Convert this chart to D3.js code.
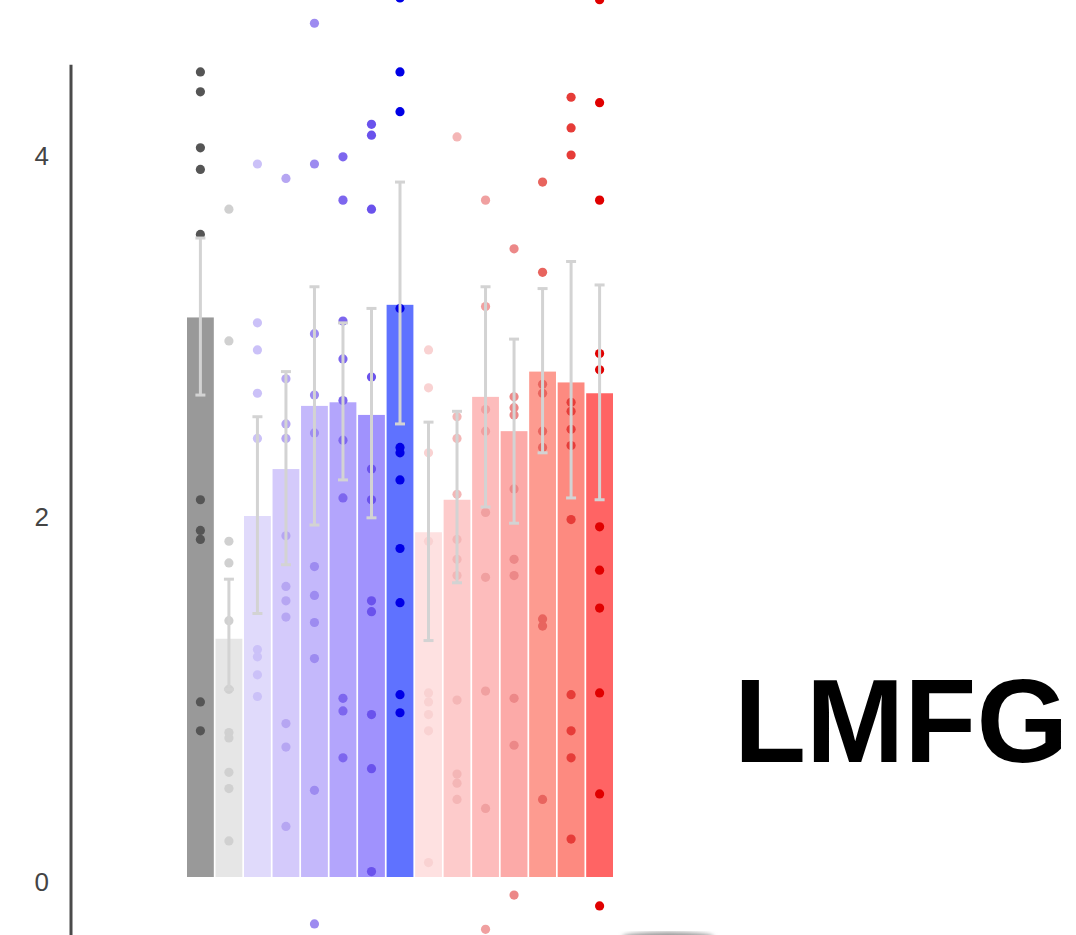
<!DOCTYPE html>
<html>
<head>
<meta charset="utf-8">
<script src="https://cdn.jsdelivr.net/npm/d3@7/dist/d3.min.js"></script>
<style>
  html, body { margin: 0; padding: 0; background: #fff; }
  svg { display: block; }
</style>
</head>
<body>
<svg id="chart" width="1076" height="935"></svg>
<script>
// ---- data ----
const categories = ["g1","g2","g3","g4","g5","g6","g7","g8","g9","g10","g11","g12","g13","g14","g15"];
const means   = [3.10,1.32,2.00,2.26,2.61,2.63,2.56,3.17,1.91,2.09,2.66,2.47,2.80,2.74,2.68];
const errHigh = [3.54,1.65,2.55,2.80,3.27,3.07,3.15,3.85,2.52,2.58,3.27,2.98,3.26,3.41,3.28];
const errLow  = [2.67,1.04,1.46,1.73,1.95,2.20,1.99,2.51,1.31,1.63,2.05,1.96,2.35,2.10,2.09];
const pointValues = [
  [4.46,4.35,4.04,3.92,3.56,2.09,1.92,1.87,0.97,0.81],
  [3.70,2.97,1.86,1.74,1.42,1.04,0.80,0.77,0.58,0.49,0.20],
  [3.95,3.07,2.92,2.68,2.43,1.26,1.22,1.12,1.00],
  [3.87,2.76,2.51,2.43,1.89,1.61,1.53,1.44,0.85,0.72,0.28],
  [4.73,3.95,3.01,2.67,2.46,1.72,1.56,1.41,1.21,0.48,-0.26],
  [3.99,3.75,3.08,2.87,2.64,2.42,2.10,0.99,0.92,0.66],
  [4.17,4.11,3.70,2.77,2.26,2.09,1.53,1.47,0.90,0.60,0.03],
  [4.87,4.46,4.24,3.15,2.38,2.35,2.20,1.82,1.52,1.01,0.91],
  [2.92,2.71,2.35,1.86,1.02,0.97,0.90,0.81,0.08],
  [4.10,2.55,2.43,2.12,1.87,1.76,1.67,0.98,0.57,0.52,0.43],
  [3.75,3.16,2.59,2.47,2.02,1.66,1.03,0.38,-0.29],
  [3.48,2.66,2.60,2.56,2.15,1.76,1.67,0.99,0.73,-0.10],
  [3.85,3.35,2.73,2.68,2.47,2.38,1.43,1.39,0.43],
  [4.32,4.15,4.00,2.63,2.58,2.48,2.39,1.98,1.01,0.81,0.66,0.21],
  [4.86,4.29,3.75,2.90,2.81,1.94,1.70,1.49,1.02,0.46,-0.16]
];
const tickValues = [0, 2, 4];
const axisExtent = [-0.33, 4.5];
const barColors = ["#999999","#e6e6e6","#e0dafb","#d4cafb","#c4b8fb","#b3a5fc","#a092fd","#5f72ff",
                   "#fee1e1","#fdcbcb","#fdbcbc","#fcaaa8","#fd9b90","#fd8a80","#ff6464"];
const dotColors = ["#555555","#d0d0d0","#cbc1f8","#b6a6f2","#9d8bf0","#7d66ee","#6a52ec","#0000e6",
                   "#f9d2d2","#f4b6b6","#f0a0a0","#ec8888","#e8645e","#e63c38","#e00000"];
const title = "LMFG";

// ---- chart ----
const svg = d3.select("#chart");
const x = d3.scaleBand().domain(categories).range([187, 613]).paddingInner(0.06).paddingOuter(0);
const y = d3.scaleLinear().domain([0, 4]).range([877, 155]);

// faint blurred shape at bottom
const defs = svg.append("defs");
defs.append("filter").attr("id", "blur").append("feGaussianBlur").attr("stdDeviation", 2);
svg.append("ellipse").attr("cx", 668).attr("cy", 937).attr("rx", 46).attr("ry", 5)
  .attr("fill", "#9a9a9a").attr("filter", "url(#blur)");

// axis
const axis = d3.axisLeft(y).tickValues(tickValues).tickSize(0).tickPadding(22).tickFormat(d3.format("d"));
const gAxis = svg.append("g").attr("transform", "translate(71,0)").call(axis);
gAxis.select(".domain").remove();
gAxis.selectAll("text")
  .attr("font-family", "Liberation Sans, Arial, sans-serif")
  .attr("font-size", 26).attr("fill", "#444")
  .attr("dy", d => d === 0 ? "0.5em" : "0.35em");
gAxis.append("line")
  .attr("x1", 0).attr("x2", 0)
  .attr("y1", y(axisExtent[1])).attr("y2", y(axisExtent[0]))
  .attr("stroke", "#4a4a4a").attr("stroke-width", 3);

// bars
svg.append("g").selectAll("rect").data(categories).join("rect")
  .attr("x", d => x(d))
  .attr("width", x.bandwidth())
  .attr("y", (d, i) => y(means[i]))
  .attr("height", (d, i) => y(0) - y(means[i]))
  .attr("fill", (d, i) => barColors[i]);

// dots
const gDots = svg.append("g");
categories.forEach((c, i) => {
  gDots.selectAll(null).data(pointValues[i]).join("circle")
    .attr("cx", x(c) + x.bandwidth() / 2)
    .attr("cy", v => y(v))
    .attr("r", 4.6)
    .attr("fill", dotColors[i]);
});

// error bars
const gErr = svg.append("g").attr("stroke", "#d3d3d3").attr("stroke-width", 3).attr("fill", "none");
categories.forEach((c, i) => {
  const cx = x(c) + x.bandwidth() / 2;
  gErr.append("line").attr("x1", cx).attr("x2", cx).attr("y1", y(errHigh[i])).attr("y2", y(errLow[i]));
  gErr.append("line").attr("x1", cx - 5).attr("x2", cx + 5).attr("y1", y(errHigh[i])).attr("y2", y(errHigh[i]));
  gErr.append("line").attr("x1", cx - 5).attr("x2", cx + 5).attr("y1", y(errLow[i])).attr("y2", y(errLow[i]));
});

// big label
svg.append("text")
  .attr("x", 734).attr("y", 762)
  .attr("font-family", "Liberation Sans, Arial, Helvetica, sans-serif")
  .attr("font-weight", "bold")
  .attr("font-size", 118)
  .attr("fill", "#000")
  .text(title);
</script>
</body>
</html>
